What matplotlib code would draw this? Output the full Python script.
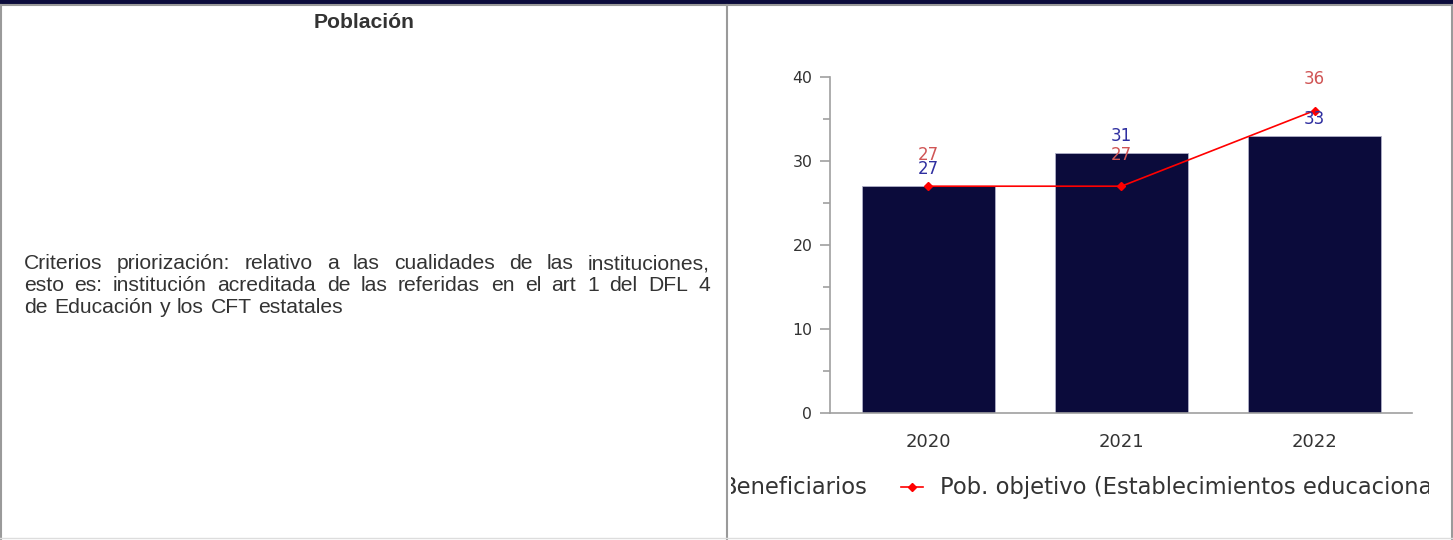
import matplotlib
matplotlib.use("Agg")
import matplotlib.pyplot as plt
from matplotlib.patches import Rectangle
from matplotlib.lines import Line2D
from matplotlib.ticker import MultipleLocator

plt.rcParams["font.family"] = ["DejaVu Sans"]

# ---------------- data ----------------
years = ["2020", "2021", "2022"]
beneficiarios = [27, 31, 33]
pob_objetivo = [27, 27, 36]
y_ticks = [0, 10, 20, 30, 40]
title_text = "Población"
left_lines = [
    "Criterios priorización: relativo a las cualidades de las instituciones,",
    "esto es: institución acreditada de las referidas en el art 1 del DFL 4",
    "de Educación y los CFT estatales",
]
legend_bar = "Beneficiarios"
legend_line = "Pob. objetivo (Establecimientos educacionales)"

W, H = 1453, 540
fig = plt.figure(figsize=(W / 100, H / 100), dpi=100)
fig.patch.set_facecolor("white")


def fx(px):
    return px / W


def fy(py):
    return 1 - py / H


# ---------------- table borders ----------------
fig.add_artist(Rectangle((0, fy(4)), 1, 4 / H, transform=fig.transFigure,
                         facecolor="#0b0b3b", edgecolor="none"))
fig.add_artist(Line2D([0, 1], [fy(5), fy(5)], transform=fig.transFigure,
                      color="#9a9a9a", lw=1.5))
for xp in (1, 727, 1451.5):
    fig.add_artist(Line2D([fx(xp), fx(xp)], [fy(5), fy(540)], transform=fig.transFigure,
                          color="#9a9a9a", lw=1.5))
fig.add_artist(Line2D([0, 1], [fy(538), fy(538)], transform=fig.transFigure,
                      color="#dddddd", lw=1.0))

text_col = "#333333"
fs_left = 15.2
left_family = ["Liberation Sans", "DejaVu Sans"]

# title
fig.text(fx(364), fy(28), title_text, ha="center", va="baseline",
         fontsize=fs_left, fontweight="bold", color=text_col, family=left_family)

# justified paragraph
renderer = fig.canvas.get_renderer()
left_px, right_px = 24, 710
baselines = [269, 291, 313]
sp = fig.text(0, 0, "a a", fontsize=fs_left, family=left_family)
sa = fig.text(0, 0, "aa", fontsize=fs_left, family=left_family)
space_w = sp.get_window_extent(renderer).width - sa.get_window_extent(renderer).width
sp.remove()
sa.remove()
for i, line in enumerate(left_lines):
    words = line.split(" ")
    texts = []
    widths = []
    for w in words:
        t = fig.text(0, fy(baselines[i]), w, ha="left", va="baseline",
                     fontsize=fs_left, color=text_col, family=left_family)
        texts.append(t)
        widths.append(t.get_window_extent(renderer).width)
    if i < len(left_lines) - 1 and len(words) > 1:
        gap = (right_px - left_px - sum(widths)) / (len(words) - 1)
    else:
        gap = space_w * 1.15
    xp = left_px
    for t, wd in zip(texts, widths):
        t.set_x(fx(xp))
        xp += wd + gap

# ---------------- chart ----------------
ax_l, ax_r, ax_t, ax_b = 830, 1412, 77, 413
ax = fig.add_axes([fx(ax_l), fy(ax_b), (ax_r - ax_l) / W, (ax_b - ax_t) / H])
x = list(range(len(years)))
ax.bar(x, beneficiarios, width=0.69, color="#0b0b3b", edgecolor="#b0b0c8",
       linewidth=0.6, zorder=2)
ax.plot(x, pob_objetivo, color="#ff0000", lw=1.2, marker="D", markersize=4.5,
        zorder=3)
ax.set_xlim(-0.51, 2.505)
ax.set_ylim(0, 40)
ax.set_xticks(x)
ax.set_xticklabels(years)
ax.set_yticks(y_ticks)
ax.yaxis.set_minor_locator(MultipleLocator(5))
for s in ("top", "right"):
    ax.spines[s].set_visible(False)
for s in ("left", "bottom"):
    ax.spines[s].set_color("#a0a0a0")
    ax.spines[s].set_linewidth(1.2)
ax.tick_params(axis="y", which="major", length=7.2, width=1.2, color="#a0a0a0",
               pad=5.5, labelsize=11.3, labelcolor=text_col)
ax.tick_params(axis="y", which="minor", length=5, width=1.2, color="#a0a0a0")
ax.tick_params(axis="x", length=0, pad=14.5, labelsize=13, labelcolor=text_col)
ax.patch.set_alpha(0)

for xi, v in zip(x, beneficiarios):
    ax.annotate(str(v), (xi, v), xytext=(0, 12.3), textcoords="offset points",
                ha="center", va="center", fontsize=12, color="#2f2fa0", zorder=4)
for xi, v in zip(x, pob_objetivo):
    ax.annotate(str(v), (xi, v), xytext=(0, 22.5), textcoords="offset points",
                ha="center", va="center", fontsize=12, color="#d05555", zorder=4)

# ---------------- legend (clipped to chart image) ----------------
clip_l, clip_r = 731, 1429
lg = fig.add_axes([fx(clip_l), fy(540), (clip_r - clip_l) / W, 535 / H])
lg.set_xlim(clip_l, clip_r)
lg.set_ylim(540, 0)
lg.axis("off")
fs_leg = 16.3
lg.text(868, 494, legend_bar, ha="right", va="baseline", fontsize=fs_leg,
        color=text_col, clip_on=True)
lg.plot([901, 923], [487, 487], color="#ff0000", lw=1.2, clip_on=True)
lg.plot([912], [487], color="#ff0000", marker="D", markersize=4.5, clip_on=True)
lg.text(940, 494, legend_line, ha="left", va="baseline", fontsize=fs_leg,
        color=text_col, clip_on=True)

fig.savefig("out.png", dpi=100)
